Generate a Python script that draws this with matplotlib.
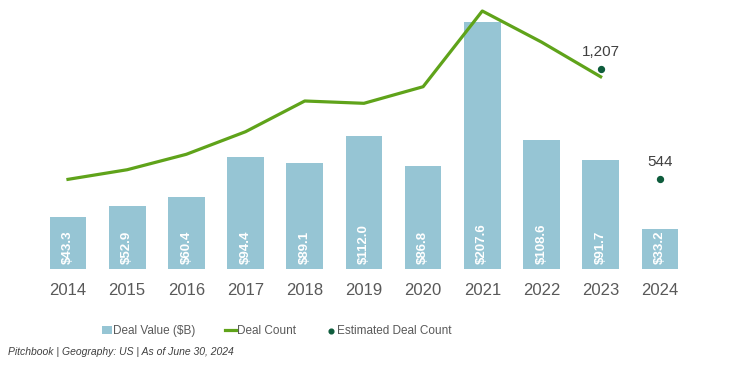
import matplotlib.pyplot as plt

plt.rcParams['font.family'] = ['Liberation Sans', 'DejaVu Sans']

years = ['2014', '2015', '2016', '2017', '2018', '2019', '2020', '2021', '2022', '2023', '2024']
deal_value = [43.3, 52.9, 60.4, 94.4, 89.1, 112.0, 86.8, 207.6, 108.6, 91.7, 33.2]
value_labels = ['$43.3', '$52.9', '$60.4', '$94.4', '$89.1', '$112.0', '$86.8', '$207.6', '$108.6', '$91.7', '$33.2']
count_years = years[:10]
deal_count = [540, 598, 691, 827, 1012, 998, 1098, 1554, 1367, 1158]
est_years = ['2023', '2024']
est_count = [1207, 544]
est_labels = ['1,207', '544']

bar_color = '#96C5D4'
line_color = '#5FA31A'
dot_color = '#0E5C3C'
text_gray = '#595959'

fig = plt.figure(figsize=(7.34, 3.67), dpi=100)
ax = fig.add_axes([0.0523, 0.267, 0.887, 0.7193])
x = list(range(len(years)))
bars = ax.bar(x, deal_value, width=0.62, color=bar_color, label='Deal Value ($B)')
for xi, lab in zip(x, value_labels):
    ax.text(xi, 4, lab, rotation=90, ha='center', va='bottom', color='white',
            fontsize=9.5, fontweight='bold')
ax.set_xlim(-0.5, len(years) - 0.5)
ax.set_ylim(0, 221.8)
ax.set_xticks(x)
ax.set_xticklabels(years, fontsize=12, color=text_gray)
ax.tick_params(axis='x', length=0, pad=10)
ax.set_yticks([])
for s in ax.spines.values():
    s.set_visible(False)

ax2 = ax.twinx()
cx = [years.index(y) for y in count_years]
ln, = ax2.plot(cx, deal_count, color=line_color, lw=2.3, label='Deal Count')
ex = [years.index(y) for y in est_years]
dots = ax2.scatter(ex, est_count, color=dot_color, s=18, zorder=5, label='Estimated Deal Count')
for xi, v, lab in zip(ex, est_count, est_labels):
    ax2.text(xi, v + 60, lab, ha='center', va='bottom', fontsize=11, color='#404040')
ax2.set_ylim(0, 1590)
ax2.set_yticks([])
for s in ax2.spines.values():
    s.set_visible(False)

fig.legend([bars, ln, dots], ['Deal Value ($B)', 'Deal Count', 'Estimated Deal Count'],
           loc='center', bbox_to_anchor=(0.377, 0.098), ncol=3, frameon=False,
           fontsize=8.5, handlelength=0.9, handletextpad=0.1,
           columnspacing=2.5, labelcolor=text_gray, markerscale=0.8)

fig.text(0.011, 0.027, 'Pitchbook | Geography: US | As of June 30, 2024', fontsize=7.5,
         style='italic', color='#404040', ha='left', va='bottom')

fig.savefig('out.png', dpi=100)
